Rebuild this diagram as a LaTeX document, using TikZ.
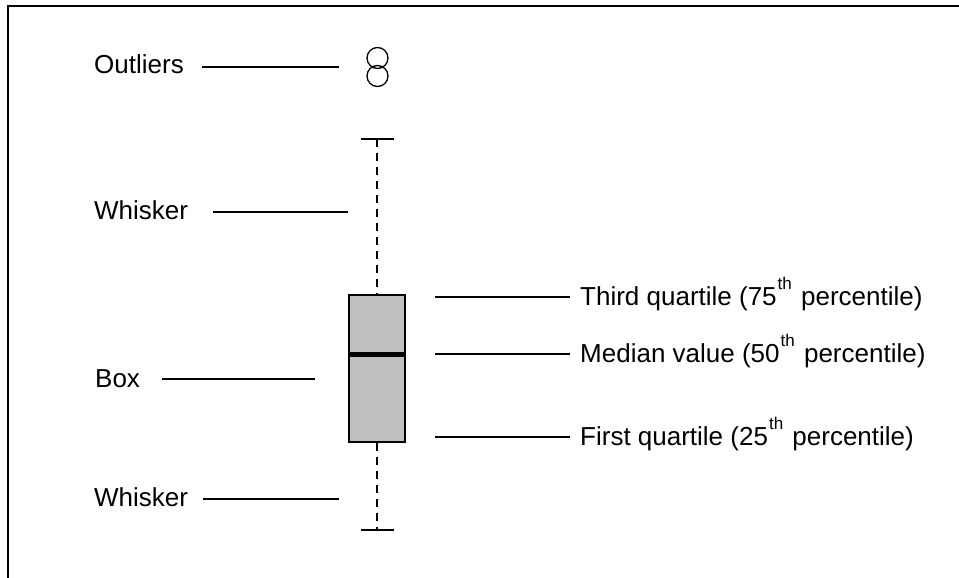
\documentclass[tikz,border=0pt]{standalone}
\usepackage{fontspec}
\setmainfont{Liberation Sans}
\definecolor{boxgray}{RGB}{192,192,192}
\newcommand{\supth}{\hspace{1pt}\raisebox{0.6em}{\fontsize{17}{17}\selectfont th}\hspace{2pt}}
\begin{document}
\begin{tikzpicture}[x=1pt,y=-1pt,
  lbl/.style={anchor=base west, inner sep=0pt, font=\fontsize{26}{30}\selectfont},
  leader/.style={line width=1.7pt},
  whisk/.style={line width=1.5pt, dash pattern=on 8pt off 6pt},
  capline/.style={line width=1.8pt}]
\useasboundingbox (0,0) rectangle (959,578);
% frame
\draw[line width=2pt] (8,578) -- (8,6) -- (959,6);

% outliers
\node[draw, circle, line width=1.3pt, minimum size=21pt, inner sep=0pt] (o1) at (377.5,58) {};
\node[draw, circle, line width=1.3pt, minimum size=21pt, inner sep=0pt] (o2) at (377.5,76) {};

% whiskers and caps
\coordinate (tcapL) at (361,139);
\coordinate (tcapR) at (394,139);
\coordinate (tcap) at (377,139);
\coordinate (bcapL) at (361,530);
\coordinate (bcapR) at (394,530);
\coordinate (bcap) at (377,530);
\draw[capline] (tcapL) -- (tcapR);
\draw[capline] (bcapL) -- (bcapR);

% box
\node[draw, fill=boxgray, line width=1.8pt, minimum width=56pt, minimum height=147pt, inner sep=0pt] (box) at (377,368.5) {};
\draw[line width=5pt] (box.west |- 0,354) coordinate (medL) -- (box.east |- 0,354) coordinate (medR);
\draw[whisk] (tcap) -- (box.north);
\draw[whisk] (box.south) -- (bcap);

% left labels
\node[lbl] (lout) at (94,74) {Outliers};
\node[lbl] (lw1) at (94,219) {Whisker};
\node[lbl] (lbox) at (95,387) {Box};
\node[lbl] (lw2) at (94,506) {Whisker};

\coordinate (a1) at (202,67);  \coordinate (a2) at (339,67);
\coordinate (b1) at (213,212); \coordinate (b2) at (348,212);
\coordinate (c1) at (162,379); \coordinate (c2) at (315,379);
\coordinate (d1) at (203,499); \coordinate (d2) at (339,499);
\draw[leader] (a1) -- (a2);
\draw[leader] (b1) -- (b2);
\draw[leader] (c1) -- (c2);
\draw[leader] (d1) -- (d2);

% right labels
\node[lbl] (lq3) at (580,305) {Third quartile (75\supth\ percentile)};
\node[lbl] (lmed) at (580,362) {Median value (50\supth\ percentile)};
\node[lbl] (lq1) at (580,445) {First quartile (25\supth\ percentile)};

\coordinate (e1) at (435,297); \coordinate (e2) at (570,297);
\coordinate (f1) at (435,354); \coordinate (f2) at (570,354);
\coordinate (g1) at (435,437); \coordinate (g2) at (570,437);
\draw[leader] (e1) -- (e2);
\draw[leader] (f1) -- (f2);
\draw[leader] (g1) -- (g2);
\end{tikzpicture}
\end{document}
